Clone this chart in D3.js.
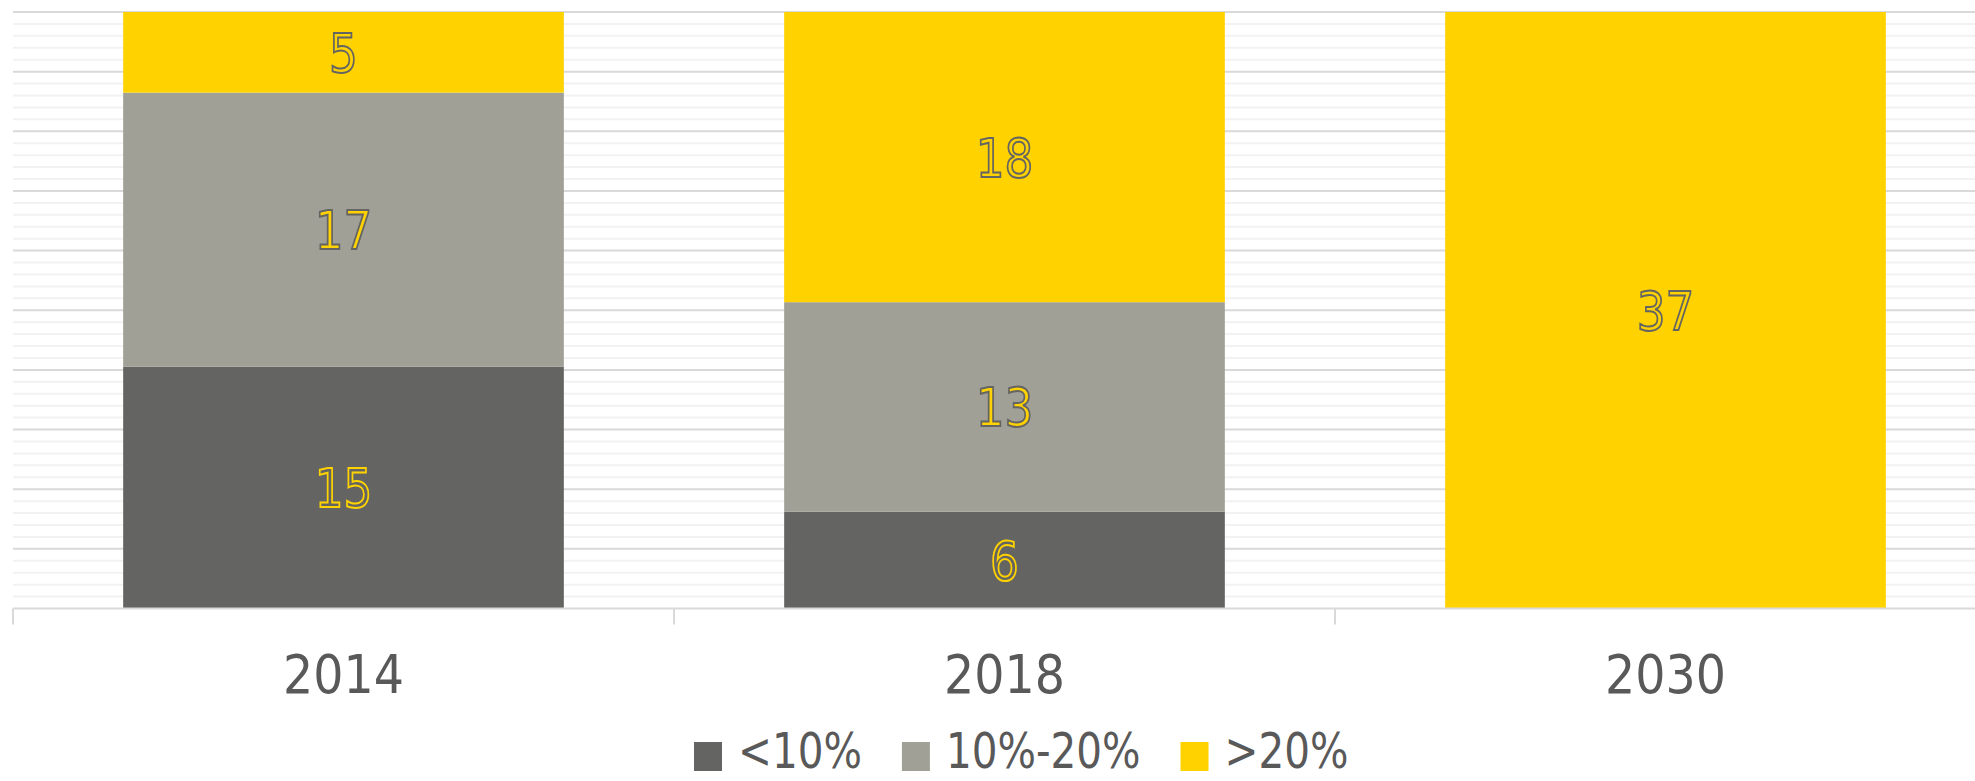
<!DOCTYPE html>
<html>
<head>
<meta charset="utf-8">
<script src="https://cdn.jsdelivr.net/npm/d3@7"></script>
<style>
  html, body { margin: 0; padding: 0; background: #fff; }
  svg { display: block; }
  text { font-family: "DejaVu Sans", sans-serif; }
</style>
</head>
<body>
<svg id="chart" width="1975" height="781"></svg>
<script>
'use strict';

// data
var years = ["2014", "2018", "2030"];
var seriesNames = ["<10%", "10%-20%", ">20%"];
var lowShare = [15, 6, 0];
var midShare = [17, 13, 0];
var highShare = [5, 18, 37];

var yMax = 37;
var majorSteps = 10;
var minorPerMajor = 5;

var colors = ["#646462", "#A0A097", "#FFD200"];
var textColor = "#595959";

var svg = d3.select("#chart");

var plotLeft = 13, plotRight = 1996, plotTop = 12, plotBottom = 608.5;

var x = d3.scaleBand()
    .domain(years)
    .range([plotLeft, plotRight])
    .paddingInner(1 / 3)
    .paddingOuter(1 / 6);

var y = d3.scaleLinear()
    .domain([0, yMax])
    .range([plotBottom, plotTop]);

// gridlines
var minorTicks = d3.range(majorSteps * minorPerMajor + 1).map(i => i * yMax / (majorSteps * minorPerMajor));
var grid = svg.append("g");
grid.selectAll("line.minor")
  .data(minorTicks.filter((d, i) => i % minorPerMajor != 0))
  .join("line")
    .attr("class", "minor")
    .attr("x1", plotLeft).attr("x2", plotRight)
    .attr("y1", d => y(d)).attr("y2", d => y(d))
    .attr("stroke", "#F2F2F2")
    .attr("stroke-width", 2);
grid.selectAll("line.major")
  .data(minorTicks.filter((d, i) => i % minorPerMajor == 0 && i > 0))
  .join("line")
    .attr("class", "major")
    .attr("x1", plotLeft).attr("x2", plotRight)
    .attr("y1", d => y(d)).attr("y2", d => y(d))
    .attr("stroke", "#D9D9D9")
    .attr("stroke-width", 2);

// stacked bars
var rows = years.map((yr, i) => ({ year: yr, s0: lowShare[i], s1: midShare[i], s2: highShare[i] }));
var stack = d3.stack().keys(["s0", "s1", "s2"]);
var layers = stack(rows);

var layerG = svg.append("g").selectAll("g")
  .data(layers)
  .join("g")
    .attr("fill", (d, i) => colors[i]);

layerG.selectAll("rect")
  .data(d => d.filter(p => p[1] - p[0] > 0))
  .join("rect")
    .attr("x", d => x(d.data.year))
    .attr("width", x.bandwidth())
    .attr("y", d => y(d[1]))
    .attr("height", d => y(d[0]) - y(d[1]));

// data labels (font squeezed a little to look like the narrow original)
layerG.each(function(layer, li) {
  d3.select(this).selectAll("text")
    .data(layer.filter(p => p[1] - p[0] > 0))
    .join("text")
      .attr("transform", d => `translate(${x(d.data.year) + x.bandwidth() / 2},${y((d[0] + d[1]) / 2)}) scale(0.84,1)`)
      .attr("dy", "0.36em")
      .attr("text-anchor", "middle")
      .attr("font-size", 54)
      .attr("fill", li == 0 ? colors[0] : colors[2])
      .attr("stroke", li == 0 ? colors[2] : colors[0])
      .attr("stroke-width", 2)
      .text(d => d[1] - d[0]);
});

// x axis
var axisG = svg.append("g");
axisG.append("line")
    .attr("x1", plotLeft).attr("x2", plotRight)
    .attr("y1", plotBottom).attr("y2", plotBottom)
    .attr("stroke", "#D9D9D9").attr("stroke-width", 2);
var step = x.step();
axisG.selectAll("line.tick")
  .data(d3.range(years.length + 1))
  .join("line")
    .attr("class", "tick")
    .attr("x1", i => plotLeft + i * step).attr("x2", i => plotLeft + i * step)
    .attr("y1", plotBottom).attr("y2", plotBottom + 16)
    .attr("stroke", "#D9D9D9").attr("stroke-width", 2);
axisG.selectAll("text")
  .data(years)
  .join("text")
    .attr("transform", d => `translate(${x(d) + x.bandwidth() / 2},693) scale(0.88,1)`)
    .attr("text-anchor", "middle")
    .attr("font-size", 54)
    .attr("fill", textColor)
    .text(d => d);

// legend
var legendScale = 0.81;
var legend = svg.append("g");
var items = legend.selectAll("g")
  .data(seriesNames)
  .join("g");
items.append("rect")
    .attr("width", 28).attr("height", 29)
    .attr("y", 742)
    .attr("fill", (d, i) => colors[i]);
items.append("text")
    .attr("transform", `translate(44,768) scale(${legendScale},1)`)
    .attr("font-size", 50)
    .attr("fill", textColor)
    .text(d => d);

var gap = 40;
var widths = [];
items.each(function() {
  var t = d3.select(this).select("text").node();
  widths.push(44 + t.getBBox().width * legendScale);
});
var cx = 694;
items.attr("transform", (d, i) => {
  var t = `translate(${cx},0)`;
  cx += widths[i] + gap;
  return t;
});
</script>
</body>
</html>
